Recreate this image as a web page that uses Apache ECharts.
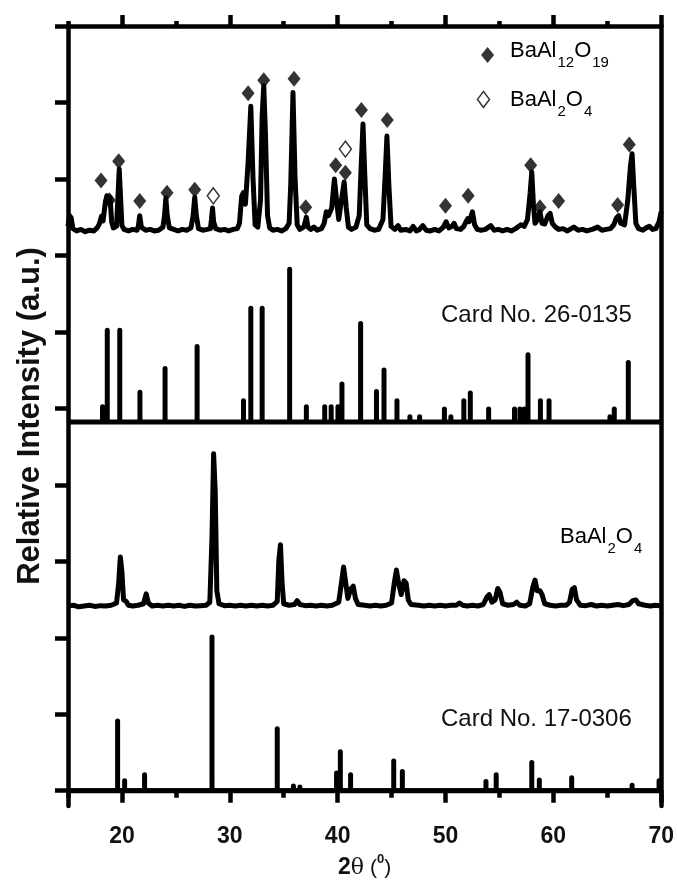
<!DOCTYPE html>
<html>
<head>
<meta charset="utf-8">
<script src="https://cdn.jsdelivr.net/npm/echarts@6/dist/echarts.min.js"></script>
<style>
  html, body { margin: 0; padding: 0; background: #fff; }
  #chart { width: 677px; height: 884px; }
</style>
</head>
<body>
<div id="chart"></div>
<script>
// 2theta range and tick labels
const xMin = 15
const xMax = 70
const majorTicks = [20, 30, 40, 50, 60, 70]
const minorTicks = [15, 25, 35, 45, 55, 65]
const yTicks = [0, 1, 2, 3, 4, 5, 6, 7, 8, 9, 10]

// measured pattern of the product (BaAl12O19 + some BaAl2O4), [2theta, intensity]
const sampleA = [
  [15.0, 0.06], [15.15, 0.2], [15.3, 0.17], [15.45, 0.03], [15.8, 0.0], [16.2, 0.02], [16.6, -0.01], [17.0, 0.01],
  [17.4, 0.0], [17.7, 0.04], [17.9, 0.09], [18.1, 0.19], [18.25, 0.13], [18.45, 0.36], [18.6, 0.46], [18.75, 0.38],
  [18.9, 0.44], [19.05, 0.12], [19.2, 0.04], [19.5, 0.06], [19.65, 0.5], [19.75, 0.81], [19.87, 0.45], [20.0, 0.07],
  [20.2, 0.02], [20.6, 0.0], [21.0, 0.02], [21.4, 0.01], [21.52, 0.06], [21.65, 0.2], [21.8, 0.05], [22.2, 0.01],
  [22.6, 0.02], [23.0, 0.0], [23.4, 0.01], [23.8, 0.05], [23.95, 0.2], [24.07, 0.43], [24.2, 0.2], [24.4, 0.04],
  [24.8, 0.02], [25.2, 0.0], [25.6, 0.02], [26.0, 0.01], [26.4, 0.04], [26.6, 0.2], [26.75, 0.44], [26.9, 0.2],
  [27.1, 0.03], [27.5, 0.01], [27.9, 0.02], [28.2, 0.03], [28.3, 0.15], [28.4, 0.3], [28.5, 0.12], [28.7, 0.03],
  [29.1, 0.01], [29.5, 0.02], [29.9, 0.0], [30.3, 0.02], [30.7, 0.03], [30.9, 0.1], [31.1, 0.45], [31.25, 0.5],
  [31.45, 0.35], [31.7, 0.9], [31.95, 1.63], [32.15, 0.7], [32.35, 0.08], [32.6, 0.05], [32.85, 0.4], [33.0, 1.5],
  [33.15, 1.9], [33.3, 1.3], [33.5, 0.2], [33.7, 0.04], [34.0, 0.01], [34.4, 0.02], [34.8, 0.0], [35.2, 0.03],
  [35.5, 0.1], [35.65, 0.6], [35.86, 1.81], [36.05, 0.7], [36.25, 0.08], [36.5, 0.02], [36.85, 0.05], [37.0, 0.12],
  [37.1, 0.18], [37.25, 0.05], [37.5, 0.02], [37.8, 0.05], [38.1, 0.01], [38.5, 0.03], [38.75, 0.1], [38.95, 0.25],
  [39.15, 0.2], [39.45, 0.3], [39.7, 0.68], [39.9, 0.4], [40.1, 0.15], [40.35, 0.4], [40.6, 0.64], [40.8, 0.3],
  [41.0, 0.05], [41.3, 0.02], [41.7, 0.05], [42.0, 0.2], [42.2, 0.9], [42.35, 1.4], [42.5, 0.8], [42.7, 0.08],
  [43.0, 0.03], [43.4, 0.01], [43.8, 0.02], [44.2, 0.15], [44.4, 0.7], [44.57, 1.24], [44.75, 0.6], [44.95, 0.06],
  [45.3, 0.02], [45.6, 0.07], [45.85, 0.01], [46.3, 0.02], [46.7, 0.0], [47.0, 0.06], [47.3, 0.0], [47.6, 0.02],
  [47.9, 0.07], [48.2, 0.01], [48.6, 0.0], [49.0, 0.02], [49.4, 0.0], [49.8, 0.05], [50.06, 0.12], [50.3, 0.04],
  [50.6, 0.06], [50.8, 0.1], [51.0, 0.03], [51.4, 0.02], [51.7, 0.06], [51.9, 0.12], [52.06, 0.16], [52.2, 0.12],
  [52.5, 0.25], [52.7, 0.08], [52.95, 0.02], [53.3, 0.01], [53.7, 0.02], [54.2, 0.07], [54.5, 0.01], [54.9, 0.02],
  [55.3, 0.0], [55.7, 0.02], [56.1, 0.0], [56.5, 0.03], [57.0, 0.08], [57.3, 0.06], [57.6, 0.15], [57.85, 0.5],
  [58.0, 0.77], [58.15, 0.35], [58.3, 0.1], [58.5, 0.14], [58.75, 0.25], [58.95, 0.1], [59.2, 0.09], [59.5, 0.2],
  [59.7, 0.23], [59.9, 0.1], [60.2, 0.05], [60.5, 0.02], [60.9, 0.03], [61.3, 0.0], [61.9, 0.05], [62.3, 0.01],
  [62.7, 0.02], [63.1, 0.0], [63.6, 0.02], [64.1, 0.05], [64.5, 0.01], [64.9, 0.02], [65.3, 0.03], [65.6, 0.08],
  [65.85, 0.17], [66.05, 0.2], [66.25, 0.1], [66.6, 0.08], [66.9, 0.4], [67.15, 0.85], [67.3, 1.01], [67.45, 0.6],
  [67.65, 0.1], [67.9, 0.03], [68.3, 0.01], [68.6, 0.04], [68.9, 0.06], [69.2, 0.02], [69.5, 0.03], [69.8, 0.12],
  [70.0, 0.25],
]

// reference sticks, card 26-0135 (BaAl12O19)
const card260135 = [
  [18.2, 0.2], [18.64, 1.2], [19.8, 1.2], [21.67, 0.39], [24.0, 0.7], [26.97, 0.99], [31.27, 0.28], [31.95, 1.49],
  [33.0, 1.49], [35.55, 2.0], [37.1, 0.2], [38.8, 0.2], [39.4, 0.2], [40.03, 0.2], [40.4, 0.5], [42.13, 1.29],
  [43.6, 0.4], [44.3, 0.68], [45.5, 0.28], [46.7, 0.07], [47.6, 0.07], [49.9, 0.17], [50.5, 0.07], [51.7, 0.28],
  [52.3, 0.38], [54.0, 0.17], [56.4, 0.17], [56.9, 0.17], [57.3, 0.17], [57.65, 0.88], [58.8, 0.28], [59.6, 0.28],
  [65.25, 0.07], [65.65, 0.17], [66.95, 0.78],
]

// measured pattern of BaAl2O4
const sampleB = [
  [15.0, 0.0], [15.5, 0.01], [16.0, -0.01], [16.5, 0.0], [17.0, 0.01], [17.5, -0.005], [18.0, 0.005], [18.5, 0.0],
  [19.0, 0.01], [19.5, 0.04], [19.7, 0.3], [19.85, 0.64], [20.0, 0.45], [20.15, 0.08], [20.4, 0.06], [20.6, 0.01],
  [21.0, 0.0], [21.5, 0.01], [22.0, 0.03], [22.25, 0.16], [22.45, 0.04], [22.8, 0.0], [23.3, 0.01], [23.8, 0.0],
  [24.3, 0.01], [24.8, 0.0], [25.3, 0.01], [25.8, -0.005], [26.3, 0.01], [26.8, 0.0], [27.3, 0.005], [27.8, 0.01],
  [28.15, 0.05], [28.35, 0.9], [28.5, 1.99], [28.65, 1.5], [28.8, 0.2], [29.0, 0.03], [29.5, 0.005], [30.0, 0.01],
  [30.5, 0.0], [31.0, 0.01], [31.5, 0.0], [32.0, 0.01], [32.5, 0.0], [33.0, 0.01], [33.5, 0.0], [34.0, 0.01],
  [34.4, 0.06], [34.55, 0.6], [34.7, 0.8], [34.85, 0.3], [35.0, 0.03], [35.5, 0.01], [36.0, 0.02], [36.25, 0.07],
  [36.5, 0.02], [37.0, 0.005], [37.5, 0.01], [38.0, 0.0], [38.5, 0.01], [39.0, 0.0], [39.5, 0.01], [40.1, 0.05],
  [40.35, 0.3], [40.55, 0.51], [40.75, 0.3], [40.95, 0.1], [41.2, 0.22], [41.45, 0.26], [41.65, 0.1], [41.9, 0.02],
  [42.5, 0.01], [43.0, 0.0], [43.5, 0.01], [44.0, 0.0], [44.5, 0.01], [45.0, 0.04], [45.25, 0.3], [45.45, 0.47],
  [45.65, 0.3], [45.9, 0.15], [46.15, 0.33], [46.35, 0.3], [46.55, 0.08], [46.8, 0.02], [47.5, 0.01], [48.0, 0.0],
  [48.5, 0.01], [49.0, 0.0], [49.5, 0.01], [50.0, 0.0], [50.5, 0.01], [51.0, 0.01], [51.3, 0.04], [51.6, 0.01],
  [52.0, 0.0], [52.5, 0.01], [53.0, 0.0], [53.5, 0.02], [53.85, 0.12], [54.05, 0.15], [54.3, 0.05], [54.6, 0.08],
  [54.85, 0.23], [55.05, 0.18], [55.3, 0.03], [55.8, 0.01], [56.3, 0.02], [56.6, 0.05], [56.9, 0.01], [57.4, 0.0],
  [57.8, 0.03], [58.1, 0.25], [58.3, 0.34], [58.5, 0.2], [58.75, 0.2], [58.95, 0.15], [59.2, 0.03], [59.7, 0.01],
  [60.2, 0.0], [60.7, 0.01], [61.2, 0.01], [61.5, 0.05], [61.75, 0.22], [61.95, 0.24], [62.15, 0.08], [62.5, 0.01],
  [63.0, 0.005], [63.5, 0.02], [64.0, 0.0], [64.5, 0.01], [65.0, 0.0], [65.5, 0.01], [66.0, 0.02], [66.5, 0.005],
  [67.0, 0.02], [67.35, 0.07], [67.65, 0.08], [67.9, 0.03], [68.5, 0.01], [69.0, 0.0], [69.5, 0.01], [70.0, 0.0],
]

// reference sticks, card 17-0306 (BaAl2O4)
const card170306 = [
  [19.6, 0.91], [20.25, 0.13], [22.1, 0.21], [28.35, 2.01], [34.4, 0.81], [35.9, 0.06], [36.5, 0.05], [39.9, 0.23],
  [40.25, 0.51], [41.2, 0.21], [45.2, 0.39], [46.0, 0.25], [53.75, 0.12], [54.7, 0.21], [56.3, 0.02], [58.0, 0.37],
  [58.7, 0.14], [61.7, 0.17], [63.6, 0.02], [65.6, 0.02], [67.3, 0.07], [69.8, 0.13],
]

// phase markers above the product pattern
const markBaAl12O19 = [
  [18.06, 0.66], [18.84, 0.4], [19.7, 0.91], [21.65, 0.39], [24.18, 0.5], [26.75, 0.54], [31.7, 1.8], [33.15, 1.97],
  [35.96, 1.99], [37.04, 0.31], [39.82, 0.86], [40.72, 0.76], [42.2, 1.58], [44.6, 1.45], [50.0, 0.33], [52.1, 0.46],
  [57.9, 0.86], [58.76, 0.31], [60.49, 0.39], [65.96, 0.34], [67.04, 1.13],
]
const markBaAl2O4 = [[28.47, 0.46], [40.72, 1.07]]
const legendFilled = [[53.9, 9.62]]
const legendHollow = [[53.52, 9.04]]

// vertical offset of each panel
const baseA = 7.32
const baseCard26 = 4.82
const baseB = 2.415
const baseCard17 = 0

const FONT = 'Liberation Sans'

const shift = (pts, base) => pts.map(([x, y]) => [x, y + base])

const sticks = (peaks, base) => {
  const pts = [[xMin, base]]
  peaks.forEach(([x, h]) => {
    pts.push([x, base], [x, base + h], [x, base])
  })
  pts.push([xMax, base])
  return pts
}

const chart = echarts.init(document.getElementById('chart'), null, { renderer: 'canvas' })

const lineSeries = (data, width) => ({
  type: 'line',
  data: data,
  showSymbol: false,
  symbol: 'none',
  animation: false,
  lineStyle: { color: '#000', width: width, join: 'round' },
  z: 3,
})

// subscripts: push the small tokens down with a top padding
const subRich = {
  m: { fontSize: 22, verticalAlign: 'top', fontFamily: FONT, color: '#111' },
  s: { fontSize: 15, verticalAlign: 'top', padding: [15, 0, 0, 1], fontFamily: FONT, color: '#111' },
}

const axisLine = { lineStyle: { color: '#000', width: 4.5 } }
const tickStyle = { color: '#000', width: 4.5 }

chart.setOption({
  backgroundColor: '#fff',
  animation: false,
  grid: { left: 68, right: 15, top: 26, bottom: 76 },
  xAxis: [
    {
      type: 'value',
      position: 'bottom',
      min: xMin,
      max: xMax,
      splitLine: { show: false },
      axisLine: axisLine,
      axisTick: { customValues: majorTicks, length: 12, lineStyle: tickStyle },
      axisLabel: {
        customValues: majorTicks,
        margin: 19,
        color: '#111',
        fontSize: 23,
        fontWeight: 'bold',
        fontFamily: FONT,
      },
      name: '{b|2}{t|θ}{p| (}{sup|0}{p|)}',
      nameLocation: 'middle',
      nameGap: 47,
      nameTextStyle: {
        rich: {
          b: { fontSize: 23, fontWeight: 'bold', fontFamily: FONT, color: '#111', lineHeight: 26, verticalAlign: 'bottom' },
          t: { fontSize: 22, fontFamily: 'DejaVu Serif', color: '#111', lineHeight: 26, verticalAlign: 'bottom' },
          p: { fontSize: 21, fontFamily: FONT, color: '#111', lineHeight: 26, verticalAlign: 'bottom' },
          sup: { fontSize: 13, fontWeight: 'bold', fontFamily: FONT, color: '#111', lineHeight: 12, verticalAlign: 'top' },
        },
      },
    },
    {
      type: 'value',
      position: 'bottom',
      min: xMin,
      max: xMax,
      splitLine: { show: false },
      axisLine: { show: false },
      axisLabel: { show: false },
      axisTick: { customValues: minorTicks, length: 7, lineStyle: tickStyle },
    },
    {
      type: 'value',
      position: 'top',
      min: xMin,
      max: xMax,
      splitLine: { show: false },
      axisLine: axisLine,
      axisLabel: { show: false },
      axisTick: { customValues: majorTicks, length: 11, lineStyle: tickStyle },
    },
    {
      type: 'value',
      position: 'top',
      min: xMin,
      max: xMax,
      splitLine: { show: false },
      axisLine: { show: false },
      axisLabel: { show: false },
      axisTick: { customValues: minorTicks, length: 5, lineStyle: tickStyle },
    },
  ],
  yAxis: [
    {
      type: 'value',
      position: 'left',
      min: -0.2,
      max: 10,
      splitLine: { show: false },
      axisLine: axisLine,
      axisTick: { customValues: yTicks, length: 13, lineStyle: tickStyle },
      axisLabel: { show: false },
      name: 'Relative Intensity (a.u.)',
      nameLocation: 'middle',
      nameRotate: 90,
      nameGap: 22,
      nameTextStyle: { fontSize: 31, fontWeight: 'bold', fontFamily: FONT, color: '#111' },
    },
    {
      type: 'value',
      position: 'right',
      min: -0.2,
      max: 10,
      splitLine: { show: false },
      axisLine: axisLine,
      axisTick: { show: false },
      axisLabel: { show: false },
    },
  ],
  series: [
    lineSeries(shift(sampleA, baseA), 5),
    lineSeries(sticks(card260135, baseCard26), 5),
    lineSeries(shift(sampleB, baseB), 5),
    lineSeries(sticks(card170306, baseCard17), 5),
    {
      type: 'scatter',
      data: shift(markBaAl12O19, baseA).concat(legendFilled),
      symbol: 'diamond',
      symbolSize: [13, 16],
      itemStyle: { color: '#000' },
      z: 4,
    },
    {
      type: 'scatter',
      data: shift(markBaAl2O4, baseA).concat(legendHollow),
      symbol: 'diamond',
      symbolSize: [12, 16],
      itemStyle: { color: '#fff', borderColor: '#000', borderWidth: 1.5 },
      z: 4,
    },
  ],
  graphic: [
    {
      type: 'text',
      left: 510,
      top: 40,
      style: { text: '{m|BaAl}{s|12}{m|O}{s|19}', rich: subRich },
    },
    {
      type: 'text',
      left: 510,
      top: 89,
      style: { text: '{m|BaAl}{s|2}{m|O}{s|4}', rich: subRich },
    },
    {
      type: 'text',
      left: 441,
      top: 303,
      style: { text: 'Card No. 26-0135', fontSize: 24, fontFamily: FONT, fill: '#111' },
    },
    {
      type: 'text',
      left: 560,
      top: 526,
      style: { text: '{m|BaAl}{s|2}{m|O}{s|4}', rich: subRich },
    },
    {
      type: 'text',
      left: 441,
      top: 707,
      style: { text: 'Card No. 17-0306', fontSize: 24, fontFamily: FONT, fill: '#111' },
    },
  ],
})
</script>
</body>
</html>
